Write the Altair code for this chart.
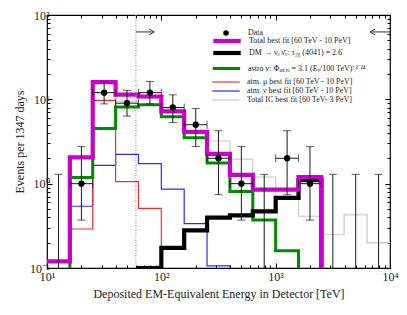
import altair as alt
import pandas as pd

# ---------------- data ----------------
bin_edges = [10, 15.85, 25.12, 39.81, 63.10, 100, 158.5, 251.2, 398.1, 631.0,
             1000, 1585, 2512, 3981, 6310, 10000]

total_fit = [0.12, 2.05, 16.0, 11.4, 10.8, 7.2, 4.1, 2.25, 1.27, 0.85, 0.85, 1.2, None, None, None]
dm_fit = [None, None, None, None, 0.1, 0.173, 0.28, 0.395, 0.42, 0.47, 0.68, 1.1, None, None, None]
astro_fit = [None, 1.18, 4.5, 8.1, 8.6, 6.2, 3.5, 1.76, 0.81, 0.37, 0.16, None, None, None, None]
atm_mu_fit = [None, 0.29, 9.7, 1.06, 0.51, None, None, None, None, None, None, None, None, None, None]
atm_nu_fit = [None, 0.54, 1.65, 2.23, 1.73, 0.86, 0.335, 0.106, None, None, None, None, None, None, None]
ic_fit = [0.12, 2.0, 15.5, 9.5, 10.3, 7.6, 4.3, 3.2, 1.95, 1.2, 0.66, 0.41, 0.25, 0.43, 0.2]

data_energy = [12.6, 20.0, 31.6, 50.1, 79.4, 126, 200, 316, 501, 794, 1259, 1995, 3162, 5012, 7943]
data_counts = [0, 1, 12, 9, 12, 8, 5, 2, 1, 0, 2, 1, 0, 0, 0]
data_err_lo = [None, 0.37, 8.83, 6.33, 8.83, 5.30, 2.75, 0.74, 0.37, None, 0.74, 0.37, None, None, None]
data_err_hi = [1.29, 2.75, 16.3, 12.8, 16.3, 11.3, 7.8, 4.25, 2.75, 1.29, 4.25, 2.75, 1.29, 1.29, 1.29]

series_labels = [
    "Total best fit [60 TeV - 10 PeV]",
    "DM \u2192 \u03bd\u2091 \u03bd\u0304\u2091:  \u03c4\u2082\u2088 (4041) = 2.6",
    "astro \u03bd: \u03a6\u2090\u209b\u209c\u1d63\u2092 = 3.1 (E\u1d65/100 TeV)\u207b\u00b3\u02d9\u00b2\u2074",
    "atm. \u03bc best fit [60 TeV - 10 PeV]",
    "atm. \u03bd best fit [60 TeV - 10 PeV]",
    "Total IC best fit [60 TeV- 3 PeV]",
]
series_values = [total_fit, dm_fit, astro_fit, atm_mu_fit, atm_nu_fit, ic_fit]
series_colors = ["#cc00cc", "#000000", "#008a00", "#ff2a2a", "#2a2aff", "#d6d6d6"]
series_widths = [4.2, 4.2, 3.0, 1.2, 1.2, 1.6]
legend_rows_y = [21, 33, 49, 63, 72, 81]   # legend entry positions (px from plot top)

threshold_energy = [60]
arrow_level = 63
arrow_right = [60, 86.5]
arrow_left = [6700, 10000]

x_major = [10, 100, 1000, 10000]
x_minor = [m * d for d in [10, 100, 1000] for m in range(2, 10)]
y_major = [0.1, 1, 10, 100]
y_minor = [m * d for d in [0.1, 1, 10] for m in range(2, 10)]

FLOOR = 0.02  # draws "empty" bins below the visible range (clipped)

# ---------------- tables ----------------
rows = []
for lab, vals in zip(series_labels, series_values):
    for k, e in enumerate(bin_edges):
        v = vals[min(k, len(vals) - 1)]
        rows.append({"series": lab, "edge": e, "value": v if v is not None else FLOOR})
hist = pd.DataFrame(rows)

drows = []
for i, (e, c, lo, hi) in enumerate(zip(data_energy, data_counts, data_err_lo, data_err_hi)):
    drows.append({
        "kind": "Data", "energy": e, "count": c if c > 0 else None,
        "lo": lo if lo is not None else FLOOR, "hi": hi,
        "xlo": bin_edges[i], "xhi": bin_edges[i + 1], "nonzero": c > 0,
    })
pts = pd.DataFrame(drows)
pts_nz = pts[pts["nonzero"]].copy()

xs = alt.Scale(type="log", domain=[10, 10000], nice=False)
ys = alt.Scale(type="log", domain=[0.1, 100], nice=False)

sup_expr = "'10' + ['\u207b\u00b9','\u2070','\u00b9','\u00b2','\u00b3','\u2074'][round(log(datum.value)/LN10)+1]"

def ax(orient, values, size, labels=False, title=None, **kw):
    return alt.Axis(orient=orient, values=values, tickSize=size, offset=-size,
                    domain=False, grid=False, labels=labels, title=title,
                    tickColor="black", tickWidth=1, **kw)

xa_major = ax("bottom", x_major, 5, labels=True,
              title="Deposited EM-Equivalent Energy in Detector [TeV]",
              labelExpr=sup_expr, labelPadding=3, labelFlush=False, labelOverlap=False,
              titlePadding=6)
ya_major = ax("left", y_major, 5, labels=True, title="Events per 1347 days",
              labelExpr=sup_expr, labelPadding=-2, labelFlush=False, labelOverlap=False,
              titlePadding=3)
xa_minor = ax("bottom", x_minor, 3)
ya_minor = ax("left", y_minor, 3)
xa_top = ax("top", x_major, 5)
ya_right = ax("right", y_major, 5)
xa_top_minor = ax("top", x_minor, 3)
ya_right_minor = ax("right", y_minor, 3)


def hist_layer(idx, xaxis=None, yaxis=None):
    label = series_labels[idx]
    leg = alt.Legend(title=None, orient="none", legendX=175, legendY=legend_rows_y[idx],
                     symbolType="M-5,0L5,0", symbolSize=30,
                     labelFontSize=8, labelLimit=0, labelOffset=17, padding=0)
    return alt.Chart(hist).transform_filter(alt.datum.series == label).mark_line(
        interpolate="step-after", clip=True).encode(
        x=alt.X("edge:Q", scale=xs, axis=xaxis),
        y=alt.Y("value:Q", scale=ys, axis=yaxis),
        color=alt.Color("series:N", scale=alt.Scale(type="ordinal", domain=[label],
                                                    range=[series_colors[idx]]), legend=leg),
        strokeWidth=alt.StrokeWidth("series:N", scale=alt.Scale(type="ordinal", domain=[label],
                                                               range=[series_widths[idx]]), legend=leg))

order = [5, 4, 3, 2, 1, 0]
hist_layers = []
for j, idx in enumerate(order):
    if j == 0:
        hist_layers.append(hist_layer(idx, xa_major, ya_major))
    else:
        hist_layers.append(hist_layer(idx))

thr = alt.Chart(pd.DataFrame({"e": threshold_energy})).mark_rule(
    color="#8a8a8a", strokeDash=[1, 1.5], strokeWidth=1).encode(
    x=alt.X("e:Q", scale=xs, axis=None))

arrows = pd.DataFrame({"x1": [arrow_right[0], arrow_left[0]], "x2": [arrow_right[1], arrow_left[1]],
                       "y": [arrow_level, arrow_level]})
arrow_lines = alt.Chart(arrows).mark_rule(color="#333", strokeWidth=1).encode(
    x=alt.X("x1:Q", scale=xs, axis=None), x2="x2:Q", y=alt.Y("y:Q", scale=ys, axis=None))
head_r = alt.Chart(pd.DataFrame({"x": [arrow_right[1]], "y": [arrow_level]})).mark_point(
    shape="M-1,-0.6L0,0L-1,0.6", filled=False, size=100, color="#333", strokeWidth=1, opacity=1).encode(
    x=alt.X("x:Q", scale=xs, axis=None), y=alt.Y("y:Q", scale=ys, axis=None))
head_l = alt.Chart(pd.DataFrame({"x": [arrow_left[0]], "y": [arrow_level]})).mark_point(
    shape="M1,-0.6L0,0L1,0.6", filled=False, size=100, color="#333", strokeWidth=1, opacity=1).encode(
    x=alt.X("x:Q", scale=xs, axis=None), y=alt.Y("y:Q", scale=ys, axis=None))

ERR = "#1a1a1a"
vbars = alt.Chart(pts).mark_rule(color=ERR, strokeWidth=1, clip=True).encode(
    x=alt.X("energy:Q", scale=xs, axis=xa_minor),
    y=alt.Y("lo:Q", scale=ys, axis=ya_minor), y2="hi:Q")
top_caps = alt.Chart(pts).mark_tick(color=ERR, orient="horizontal", size=8, thickness=1).encode(
    x=alt.X("energy:Q", scale=xs, axis=None), y=alt.Y("hi:Q", scale=ys, axis=None))
bot_caps = alt.Chart(pts_nz).mark_tick(color=ERR, orient="horizontal", size=8, thickness=1).encode(
    x=alt.X("energy:Q", scale=xs, axis=None), y=alt.Y("lo:Q", scale=ys, axis=None))
hbars = alt.Chart(pts_nz).mark_rule(color=ERR, strokeWidth=1).encode(
    x=alt.X("xlo:Q", scale=xs, axis=xa_top), x2="xhi:Q",
    y=alt.Y("count:Q", scale=ys, axis=ya_right))
lcaps = alt.Chart(pts_nz).mark_tick(color=ERR, orient="vertical", size=8, thickness=1).encode(
    x=alt.X("xlo:Q", scale=xs, axis=None), y=alt.Y("count:Q", scale=ys, axis=None))
rcaps = alt.Chart(pts_nz).mark_tick(color=ERR, orient="vertical", size=8, thickness=1).encode(
    x=alt.X("xhi:Q", scale=xs, axis=None), y=alt.Y("count:Q", scale=ys, axis=None))

data_legend = alt.Legend(title=None, orient="none", legendX=175, legendY=14,
                         symbolSize=30, labelFontSize=8, labelOffset=18, padding=0)
points = alt.Chart(pts_nz).mark_point(filled=True, size=40, color="black", opacity=1).encode(
    x=alt.X("energy:Q", scale=xs, axis=xa_top_minor),
    y=alt.Y("count:Q", scale=ys, axis=ya_right_minor),
    shape=alt.Shape("kind:N", scale=alt.Scale(domain=["Data"], range=["circle"]), legend=data_legend))

chart = alt.layer(
    *hist_layers, thr, arrow_lines, head_r, head_l,
    vbars, top_caps, bot_caps, hbars, lcaps, rcaps, points
).resolve_axis(x="independent", y="independent").resolve_scale(
    color="independent", strokeWidth="independent").properties(
    width=343, height=253, autosize=alt.AutoSizeParams(type="none"),
    padding={"left": 39, "top": 7, "right": 9, "bottom": 36},
    background="white",
).configure(font="Liberation Serif").configure_axis(
    labelFont="Liberation Serif", titleFont="Liberation Serif", labelFontSize=12,
    titleFontSize=12, titleFontWeight="normal", labelColor="#222", titleColor="#222",
).configure_legend(labelFont="Liberation Serif", labelColor="#222").configure_view(
    stroke="black", strokeWidth=1.2)

chart.save("out.html", embed_options={"renderer": "svg", "actions": False})
